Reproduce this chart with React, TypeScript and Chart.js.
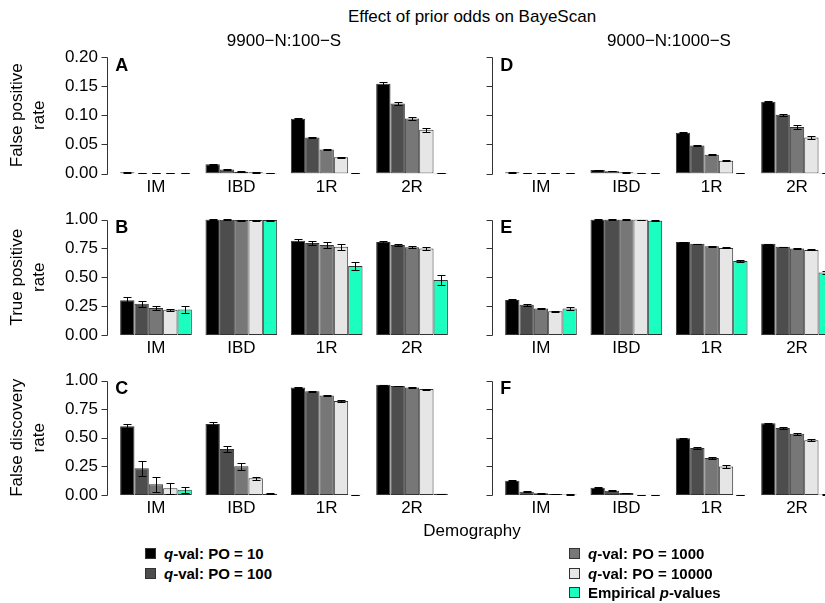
import React, { useEffect, useRef } from "react";
import { Chart, registerables } from "chart.js";
Chart.register(...registerables);

const FONT = "'Liberation Sans', Arial, Helvetica, sans-serif";
Chart.defaults.font.family = FONT;

const categories = ["IM", "IBD", "1R", "2R"];
const seriesNames = ["q-val: PO = 10", "q-val: PO = 100", "q-val: PO = 1000", "q-val: PO = 10000", "Empirical p-values"];
const seriesColors = ["#000000", "#4d4d4d", "#777777", "#e6e6e6", "#1affc0"];

const mainTitle = "Effect of prior odds on BayeScan";
const columnTitles = ["9900\u2212N:100\u2212S", "9000\u2212N:1000\u2212S"];
const xTitle = "Demography";
const rowTitles = [["False positive", "rate"], ["True positive", "rate"], ["False discovery", "rate"]];
const panelLetters = [["A", "D"], ["B", "E"], ["C", "F"]];

const fprTickLabels = ["0.00", "0.05", "0.10", "0.15", "0.20"];
const rateTickLabels = ["0.00", "0.25", "0.50", "0.75", "1.00"];

// values[series][category]
const fprLeft = [
  [0.002, 0.016, 0.094, 0.154],
  [0.0006, 0.007, 0.062, 0.12],
  [0.0004, 0.003, 0.041, 0.0945],
  [0.0003, 0.002, 0.028, 0.075],
  [0.0003, 0.001, 0.0005, 0.001],
];
const fprLeftErr = [
  [0.0005, 0.001, 0.001, 0.003],
  [0.0002, 0.0008, 0.001, 0.003],
  [0.0001, 0.0005, 0.001, 0.003],
  [0.0001, 0.0003, 0.0008, 0.003],
  [0.0001, 0.0002, 0.0002, 0.0003],
];
const fprRight = [
  [0.002, 0.006, 0.07, 0.123],
  [0.0006, 0.004, 0.048, 0.101],
  [0.0004, 0.002, 0.032, 0.08],
  [0.0003, 0.001, 0.022, 0.062],
  [0.0003, 0.0005, 0.0005, 0.001],
];
const fprRightErr = [
  [0.0003, 0.0005, 0.001, 0.001],
  [0.0001, 0.0004, 0.0015, 0.0015],
  [0.0001, 0.0003, 0.001, 0.003],
  [0.0001, 0.0002, 0.001, 0.002],
  [0.0001, 0.0001, 0.0001, 0.0002],
];
const tprLeft = [
  [0.3, 1.0, 0.815, 0.806],
  [0.27, 0.998, 0.797, 0.78],
  [0.233, 0.995, 0.78, 0.76],
  [0.218, 0.995, 0.763, 0.75],
  [0.22, 0.995, 0.597, 0.476],
];
const tprLeftErr = [
  [0.03, 0.002, 0.02, 0.008],
  [0.025, 0.003, 0.02, 0.008],
  [0.015, 0.004, 0.025, 0.01],
  [0.01, 0.004, 0.025, 0.01],
  [0.03, 0.004, 0.035, 0.04],
];
const tprRight = [
  [0.304, 1.0, 0.806, 0.789],
  [0.261, 1.0, 0.789, 0.763],
  [0.229, 1.0, 0.768, 0.748],
  [0.206, 0.999, 0.754, 0.737],
  [0.229, 0.99, 0.641, 0.542],
];
const tprRightErr = [
  [0.005, 0.001, 0.003, 0.003],
  [0.008, 0.001, 0.003, 0.003],
  [0.005, 0.001, 0.003, 0.004],
  [0.005, 0.001, 0.004, 0.004],
  [0.015, 0.003, 0.008, 0.015],
];
const fdrLeft = [
  [0.6, 0.619, 0.939, 0.962],
  [0.233, 0.402, 0.907, 0.951],
  [0.093, 0.251, 0.869, 0.939],
  [0.058, 0.146, 0.822, 0.925],
  [0.046, 0.01, 0.002, 0.01],
];
const fdrLeftErr = [
  [0.02, 0.015, 0.005, 0.003],
  [0.067, 0.025, 0.005, 0.003],
  [0.063, 0.03, 0.007, 0.004],
  [0.05, 0.015, 0.01, 0.004],
  [0.026, 0.004, 0.002, 0.003],
];
const fdrRight = [
  [0.125, 0.064, 0.496, 0.627],
  [0.029, 0.038, 0.411, 0.586],
  [0.015, 0.018, 0.324, 0.534],
  [0.009, 0.003, 0.248, 0.479],
  [0.004, 0.002, 0.003, 0.005],
];
const fdrRightErr = [
  [0.004, 0.004, 0.006, 0.003],
  [0.003, 0.003, 0.009, 0.006],
  [0.002, 0.002, 0.01, 0.01],
  [0.002, 0.001, 0.012, 0.01],
  [0.001, 0.001, 0.001, 0.002],
];

const panelValues = [[fprLeft, fprRight], [tprLeft, tprRight], [fdrLeft, fdrRight]];
const panelErrors = [[fprLeftErr, fprRightErr], [tprLeftErr, tprRightErr], [fdrLeftErr, fdrRightErr]];
const rowTicks = [fprTickLabels, rateTickLabels, rateTickLabels];

// layout
const COL_LEFT = [0, 385];
const CANVAS_W = 460;
const Y_AXIS_W = 113.3;
const PAD_RIGHT = 5.3;
const ROW_TOP = [57, 219.5, 380.5];
const ROW_H = [116.5, 115.5, 114.5];
const PAD_TOP = 30;
const X_AXIS_H = 32;

const axisPlugin = {
  id: "rAxis",
  afterDraw(chart: any, _args: any, opts: any) {
    const { ctx, chartArea, scales } = chart;
    const y = scales.y;
    const x0 = Math.round(chartArea.left - 6) + 0.5;
    ctx.save();
    ctx.strokeStyle = "#333";
    ctx.lineWidth = 1;
    ctx.beginPath();
    ctx.moveTo(x0, Math.round(y.getPixelForValue(y.max)) + 0.5);
    ctx.lineTo(x0, Math.round(y.getPixelForValue(0)) + 0.5);
    for (const t of y.ticks) {
      const py = Math.round(y.getPixelForValue(t.value)) + 0.5;
      ctx.moveTo(x0 - 6, py);
      ctx.lineTo(x0, py);
    }
    ctx.stroke();
    ctx.fillStyle = "#000";
    ctx.font = `bold 18px ${FONT}`;
    ctx.textBaseline = "top";
    ctx.textAlign = "left";
    ctx.fillText(opts.letter, chartArea.left + 2, chartArea.top);
    ctx.restore();
  },
};

const errorBarPlugin = {
  id: "errBars",
  afterDatasetsDraw(chart: any, _args: any, opts: any) {
    const { ctx, scales } = chart;
    const y = scales.y;
    ctx.save();
    ctx.strokeStyle = "#000";
    ctx.lineWidth = 1;
    chart.data.datasets.forEach((ds: any, i: number) => {
      const meta = chart.getDatasetMeta(i);
      meta.data.forEach((bar: any, j: number) => {
        const v = ds.data[j];
        const e = opts.errors[i][j];
        const x = Math.round(bar.x) + 0.5;
        const yt = Math.round(y.getPixelForValue(v + e)) + 0.5;
        const yb = Math.round(y.getPixelForValue(Math.max(0, v - e))) + 0.5;
        ctx.beginPath();
        ctx.moveTo(x, yt);
        ctx.lineTo(x, yb);
        ctx.moveTo(x - 4, yt);
        ctx.lineTo(x + 4, yt);
        ctx.moveTo(x - 4, yb);
        ctx.lineTo(x + 4, yb);
        ctx.stroke();
      });
    });
    ctx.restore();
  },
};

function Panel({ row, col }: { row: number; col: number }) {
  const ref = useRef<HTMLCanvasElement | null>(null);
  const canvasTop = Math.floor(ROW_TOP[row] - PAD_TOP);
  const padTop = ROW_TOP[row] - canvasTop;
  const canvasH = Math.ceil(padTop + ROW_H[row] + X_AXIS_H);
  const padBottom = canvasH - padTop - ROW_H[row] - X_AXIS_H;

  useEffect(() => {
    if (!ref.current) return;
    const values = panelValues[row][col];
    const errors = panelErrors[row][col];
    const tickLabels = rowTicks[row];
    const tickValues = tickLabels.map((t) => parseFloat(t));
    const chart: any = new Chart(ref.current, {
      type: "bar",
      data: {
        labels: categories,
        datasets: seriesNames.map((name, i) => ({
          label: name,
          data: values[i],
          backgroundColor: seriesColors[i],
          borderColor: "#333",
          borderWidth: 1,
          borderSkipped: false,
          barPercentage: 1,
          categoryPercentage: 0.84,
        })),
      },
      options: {
        animation: false,
        responsive: false,
        maintainAspectRatio: false,
        devicePixelRatio: 1,
        layout: { padding: { top: padTop, right: PAD_RIGHT, bottom: padBottom, left: 0 } },
        plugins: {
          legend: { display: false },
          tooltip: { enabled: false },
          title: { display: false },
          rAxis: { letter: panelLetters[row][col] },
          errBars: { errors },
        } as any,
        scales: {
          x: {
            type: "category",
            grid: { display: false, drawTicks: false },
            border: { display: false },
            ticks: { font: { size: 17 }, color: "#000", padding: 3.5, maxRotation: 0, autoSkip: false },
            afterFit: (s: any) => {
              s.height = X_AXIS_H;
            },
          },
          y: {
            type: "linear",
            min: 0,
            max: tickValues[tickValues.length - 1],
            afterBuildTicks: (s: any) => {
              s.ticks = tickValues.map((v) => ({ value: v }));
            },
            grid: { display: false, drawTicks: false },
            border: { display: false },
            ticks: {
              display: col === 0,
              font: { size: 17 },
              color: "#000",
              padding: 15.3,
              callback: (_v: any, i: number) => tickLabels[i],
            },
            title: {
              display: col === 0,
              text: rowTitles[row],
              color: "#000",
              font: { size: 17, lineHeight: 1.3 },
              padding: { top: 6.5, bottom: 0 },
            },
            afterFit: (s: any) => {
              s.width = Y_AXIS_W;
            },
          },
        },
      },
      plugins: [axisPlugin, errorBarPlugin],
    } as any);

    // correct the chart area so that it lands exactly where the layout wants it
    const wantTop = padTop;
    const wantBottom = padTop + ROW_H[row];
    const wantLeft = Y_AXIS_W;
    const wantRight = CANVAS_W - PAD_RIGHT;
    for (let k = 0; k < 2; k++) {
      const ca = chart.chartArea;
      const p = chart.options.layout.padding;
      const np = {
        top: p.top + (wantTop - ca.top),
        bottom: p.bottom + (ca.bottom - wantBottom),
        left: p.left + (wantLeft - ca.left),
        right: p.right + (ca.right - wantRight),
      };
      if (
        Math.abs(np.top - p.top) < 0.05 &&
        Math.abs(np.bottom - p.bottom) < 0.05 &&
        Math.abs(np.left - p.left) < 0.05 &&
        Math.abs(np.right - p.right) < 0.05
      )
        break;
      chart.options.layout.padding = np;
      chart.update();
    }
    return () => chart.destroy();
  }, [row, col]);

  return (
    <canvas
      ref={ref}
      width={CANVAS_W}
      height={canvasH}
      style={{ position: "absolute", left: COL_LEFT[col], top: canvasTop, width: CANVAS_W, height: canvasH }}
    />
  );
}

function Label({ text, x, y, size = 17 }: { text: string; x: number; y: number; size?: number }) {
  return (
    <div
      style={{
        position: "absolute",
        left: x,
        top: y,
        transform: "translate(-50%, -50%)",
        fontFamily: FONT,
        fontSize: size,
        lineHeight: `${size}px`,
        whiteSpace: "nowrap",
        color: "#000",
      }}
    >
      {text}
    </div>
  );
}

function legendText(name: string) {
  const m = name.match(/^(.*?)\b([pq])(-.*)$/);
  if (!m) return name;
  return (
    <>
      {m[1]}
      <i>{m[2]}</i>
      {m[3]}
    </>
  );
}

const legendPos = [
  { x: 145, y: 553 },
  { x: 145, y: 573 },
  { x: 569, y: 553 },
  { x: 569, y: 573 },
  { x: 569, y: 592.5 },
];

export default function App() {
  useEffect(() => {
    document.body.style.margin = "0";
  }, []);
  const panels: any[] = [];
  for (let r = 0; r < 3; r++) for (let c = 0; c < 2; c++) panels.push(<Panel key={`${r}-${c}`} row={r} col={c} />);
  return (
    <div style={{ position: "fixed", left: 0, top: 0, width: 825, height: 603, overflow: "hidden", background: "#fff" }}>
      {panels}
      <Label text={mainTitle} x={472} y={16} />
      <Label text={columnTitles[0]} x={284} y={40} />
      <Label text={columnTitles[1]} x={669} y={40} />
      <Label text={xTitle} x={472} y={530} />
      {seriesNames.map((name, i) => (
        <div
          key={name}
          style={{
            position: "absolute",
            left: legendPos[i].x,
            top: legendPos[i].y - 10,
            height: 20,
            display: "flex",
            alignItems: "center",
            fontFamily: FONT,
            fontSize: 15,
            fontWeight: "bold",
            whiteSpace: "nowrap",
            color: "#000",
          }}
        >
          <span
            style={{
              display: "inline-block",
              width: 11,
              height: 11,
              boxSizing: "border-box",
              border: "1px solid #333",
              background: seriesColors[i],
              marginRight: 8,
            }}
          />
          <span>{legendText(name)}</span>
        </div>
      ))}
    </div>
  );
}
